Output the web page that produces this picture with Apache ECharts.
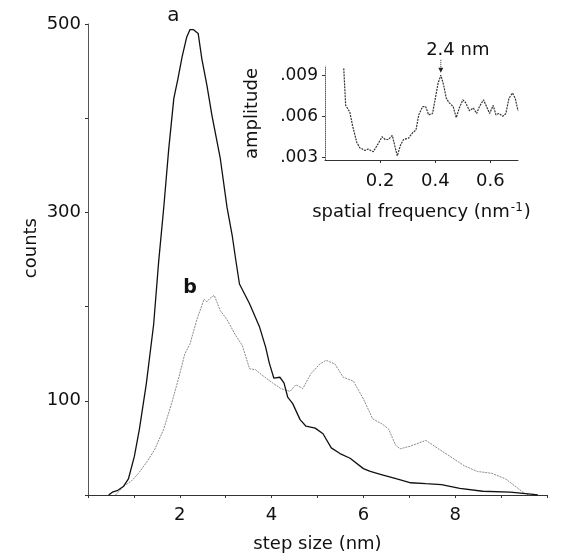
<!DOCTYPE html>
<html lang="en">
<head>
    <meta charset="UTF-8">
    <title>step size histogram</title>
    <style>
        body{ margin:0; background:#fff }
        #main{ width:575px; height:558px; }
    </style>
</head>
<body>
    <div id="main"></div>
    <script src="https://cdn.jsdelivr.net/npm/echarts@6/dist/echarts.min.js"></script>
    <script>
        // curve a: step size (nm) / counts
        var stepA = [0.45,0.53,0.65,0.77,0.88,1.01,1.12,1.27,1.43,1.54,1.65,1.76,1.87,1.96,2.05,2.15,2.22,2.3,2.4,2.48,2.59,2.7,2.88,3.03,3.14,3.23,3.3,3.52,3.74,3.87,3.95,4.05,4.18,4.27,4.35,4.46,4.62,4.75,4.95,5.12,5.3,5.49,5.71,6.0,6.15,6.37,6.73,7.03,7.36,7.7,8.1,8.6,9.2,9.65,9.8];
        var countA = [0,3,5,9,17,41,70,118,181,248,305,368,421,442,465,486,494,494,490,463,435,403,358,305,276,246,224,203,178,157,140,124,125,119,104,97,80,73,71,65,50,44,39,28,25,22,17,13,12,11,7,4,3,1,0];
        // curve b
        var stepB = [0.6,0.77,0.95,1.1,1.28,1.45,1.65,1.82,1.98,2.11,2.22,2.37,2.53,2.59,2.66,2.75,2.88,3.03,3.21,3.36,3.52,3.65,3.8,4.02,4.2,4.4,4.53,4.68,4.86,5.05,5.19,5.38,5.56,5.78,6.0,6.2,6.42,6.55,6.7,6.8,7.03,7.36,7.73,8.2,8.48,8.8,9.1,9.37,9.5,9.6];
        var countB = [0,9,15,23,35,48,70,97,125,150,160,186,208,205,209,212,196,186,170,159,134,133,127,119,113,110,117,113,129,139,143,139,125,121,102,81,75,70,53,49,52,58,46,31,25,23,17,7,2,0];
        // inset: spatial frequency (1/nm) / amplitude
        var freq = [0.068,0.075,0.09,0.1,0.115,0.126,0.145,0.156,0.175,0.193,0.207,0.218,0.23,0.244,0.262,0.274,0.285,0.303,0.318,0.33,0.34,0.354,0.365,0.376,0.39,0.4,0.41,0.42,0.43,0.44,0.45,0.465,0.476,0.487,0.5,0.51,0.524,0.538,0.55,0.56,0.575,0.586,0.597,0.61,0.62,0.63,0.645,0.656,0.667,0.68,0.69,0.7];
        var amp = [0.0095,0.0068,0.0063,0.0053,0.0041,0.0037,0.0035,0.0036,0.0034,0.0040,0.0045,0.0043,0.0043,0.0046,0.0031,0.0039,0.0043,0.0044,0.0048,0.0050,0.0061,0.0067,0.0067,0.0061,0.0062,0.0073,0.0084,0.0090,0.0083,0.0073,0.0070,0.0067,0.0059,0.0066,0.0072,0.0070,0.0064,0.0066,0.0062,0.0067,0.0072,0.0067,0.0062,0.0068,0.0061,0.0062,0.0060,0.0062,0.0073,0.0077,0.0073,0.0064];
        var insetTicks = [0.003,0.006,0.009];
        var peakFreq = 0.42, peakAmp = 0.0091;

        function pairs(xs, ys){
            return xs.map(function(x, i){ return [x, ys[i]]; });
        }

        var font = 'DejaVu Sans, sans-serif';
        var axisCol = '#333';
        var myChart = echarts.init(document.getElementById('main'));

        var option = {
            backgroundColor:'#fff',
            animation:false,
            textStyle:{ fontFamily:font, color:'#111' },
            grid:[
                { left:88, right:28, top:24, bottom:59 },
                { left:325, top:67, width:193, height:93 }
            ],
            xAxis:[
                {
                    gridIndex:0, type:'value', min:0, max:10, interval:1,
                    name:'step size (nm)', nameLocation:'middle', nameGap:40,
                    nameTextStyle:{ fontSize:18, color:'#111' },
                    axisLine:{ lineStyle:{ color:axisCol, width:1.2 } },
                    axisTick:{ length:3, lineStyle:{ color:axisCol } },
                    axisLabel:{
                        fontSize:18, color:'#111', margin:11,
                        formatter:function(v){ return (v > 0 && v < 10 && v % 2 === 0) ? v : ''; }
                    },
                    splitLine:{ show:false }
                },
                {
                    gridIndex:1, type:'value', min:0, max:0.7, interval:0.2,
                    name:'{n|spatial frequency (nm}{s|-1}{n|)}', nameLocation:'middle', nameGap:42,
                    nameTextStyle:{ rich:{ n:{ fontSize:18, color:'#111' }, s:{ fontSize:12, color:'#111', verticalAlign:'top', padding:[0,1,8,1] } } },
                    axisLine:{ lineStyle:{ color:axisCol } },
                    axisTick:{ length:3, lineStyle:{ color:axisCol } },
                    axisLabel:{
                        fontSize:18, color:'#111', margin:12, showMinLabel:false, showMaxLabel:false,
                        formatter:function(v){ return v.toFixed(1); }
                    },
                    splitLine:{ show:false }
                }
            ],
            yAxis:[
                {
                    gridIndex:0, type:'value', min:0, max:500, interval:100,
                    axisLine:{ show:true, lineStyle:{ color:'#555', width:1 } },
                    axisTick:{ show:true, length:3, lineStyle:{ color:axisCol } },
                    axisLabel:{
                        fontSize:18, color:'#111', margin:7,
                        formatter:function(v){ return (v % 200 === 100) ? v : ''; }
                    },
                    splitLine:{ show:false }
                },
                {
                    gridIndex:1, type:'value', min:0.0028, max:0.0096,
                    name:'amplitude', nameLocation:'middle', nameGap:64,
                    nameTextStyle:{ fontSize:18, color:'#111' },
                    axisLine:{ show:true, lineStyle:{ color:'#666', type:'dotted' } },
                    axisTick:{ show:true, length:3, customValues:insetTicks, lineStyle:{ color:axisCol } },
                    axisLabel:{
                        fontSize:17, color:'#111', margin:7, customValues:insetTicks,
                        formatter:function(v){ return v.toFixed(3).replace(/^0/, ''); }
                    },
                    splitLine:{ show:false }
                }
            ],
            series:[
                {
                    name:'a', type:'line', xAxisIndex:0, yAxisIndex:0,
                    data:pairs(stepA, countA), showSymbol:false,
                    lineStyle:{ color:'#111', width:1.3 }, z:3
                },
                {
                    name:'b', type:'line', xAxisIndex:0, yAxisIndex:0,
                    data:pairs(stepB, countB), showSymbol:false,
                    lineStyle:{ color:'#888', width:1, type:[2,1] }, z:2
                },
                {
                    name:'inset', type:'line', xAxisIndex:1, yAxisIndex:1,
                    data:pairs(freq, amp), showSymbol:false, clip:false,
                    lineStyle:{ color:'#333', width:1.2, type:[2,1] }
                }
            ]
        };
        myChart.setOption(option);

        // labels and the peak arrow, placed through the chart's own scales
        var peak = myChart.convertToPixel({ xAxisIndex:1, yAxisIndex:1 }, [peakFreq, peakAmp]);
        var topA = myChart.convertToPixel({ xAxisIndex:0, yAxisIndex:0 }, [1.86, 494]);
        var topB = myChart.convertToPixel({ xAxisIndex:0, yAxisIndex:0 }, [2.2, 212]);
        myChart.setOption({
            graphic:[
                { type:'text', left:22, top:218, rotation:Math.PI/2,
                  style:{ text:'counts', font:'18px ' + font, fill:'#111' } },
                { type:'text', x:topA[0], y:topA[1] - 14, style:{ text:'a', font:'20px ' + font, fill:'#111', align:'center', verticalAlign:'middle' } },
                { type:'text', x:topB[0] + 1, y:topB[1] - 7, style:{ text:'b', font:'bold 19px ' + font, fill:'#111', align:'center', verticalAlign:'middle' } },
                { type:'line', shape:{ x1:peak[0], y1:peak[1] - 14, x2:peak[0], y2:peak[1] - 4 },
                  style:{ stroke:'#333', lineWidth:1, lineDash:[1,1] } },
                { type:'polygon', shape:{ points:[[peak[0] - 2.5, peak[1] - 6], [peak[0] + 2.5, peak[1] - 6], [peak[0], peak[1] - 1]] },
                  style:{ fill:'#222' } },
                { type:'text', x:peak[0] + 17, y:peak[1] - 24, style:{ text:'2.4 nm', font:'18px ' + font, fill:'#111', align:'center', verticalAlign:'middle' } }
            ]
        });
    </script>
</body>
</html>
